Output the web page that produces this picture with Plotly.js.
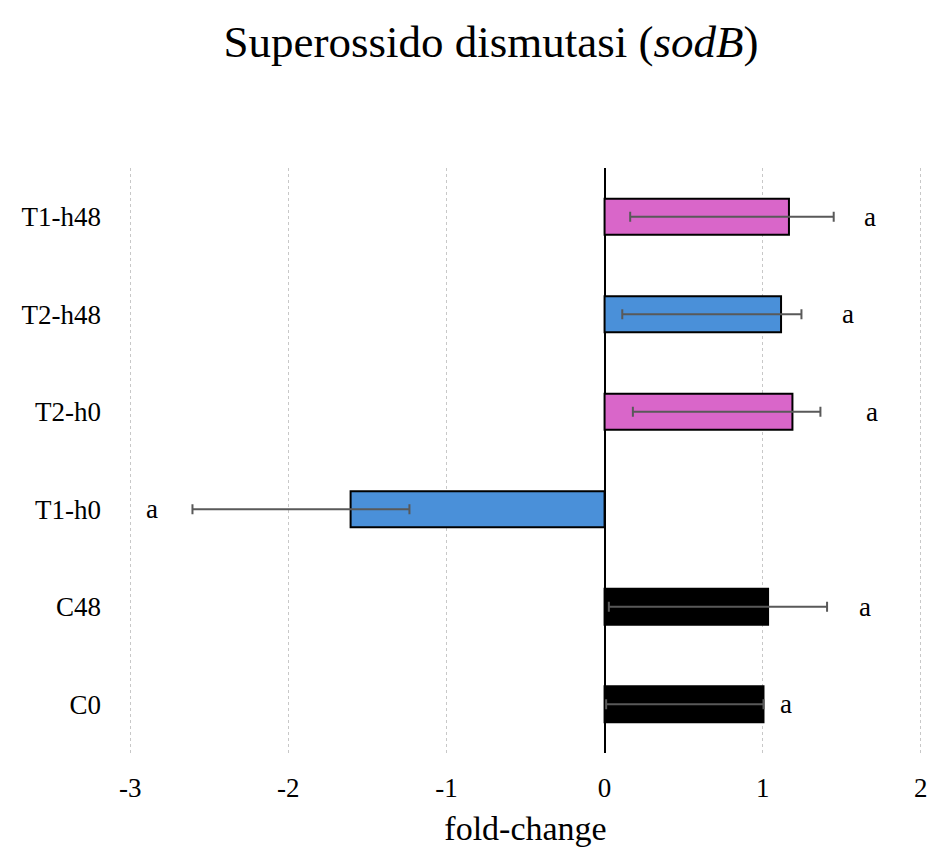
<!DOCTYPE html>
<html>
<head>
<meta charset="utf-8">
<script src="https://cdn.plot.ly/plotly-3.0.1.min.js"></script>
<style>html,body{margin:0;padding:0;background:#fff;}#chart{width:930px;height:853px;}</style>
</head>
<body>
<div id="chart"></div>
<script>
// ---- data ----
var categories = ["C0", "C48", "T1-h0", "T2-h0", "T2-h48", "T1-h48"];
var foldChange = [1.005, 1.034, -1.606, 1.188, 1.116, 1.166];
var errPlus    = [0.0, 0.373, 0.372, 0.177, 0.129, 0.283];
var errMinus   = [0.995, 1.007, 1.0, 1.009, 1.004, 1.004];
var letters    = ["a", "a", "a", "a", "a", "a"];

// ---- styles / layout config ----
var barColors = ["#000000", "#000000", "#4A90D9", "#D966C9", "#4A90D9", "#D966C9"];
var letterX = [1.15, 1.65, -2.86, 1.69, 1.54, 1.68];
var serif = "Liberation Serif, Times New Roman, serif";

var trace = {
  type: "bar",
  orientation: "h",
  y: categories,
  x: foldChange,
  width: 0.37,
  marker: {color: barColors, line: {color: "#000000", width: 2}},
  error_x: {
    type: "data", symmetric: false,
    array: errPlus, arrayminus: errMinus,
    color: "#595959", thickness: 2, width: 5
  },
  hoverinfo: "none"
};

var annotations = categories.map(function (c, i) {
  return {
    x: letterX[i], y: c, xref: "x", yref: "y",
    text: letters[i], showarrow: false,
    font: {family: serif, size: 27, color: "#000"}
  };
});

var layout = {
  width: 930, height: 853,
  margin: {l: 127, r: 6, t: 168, b: 100},
  paper_bgcolor: "#fff", plot_bgcolor: "#fff",
  showlegend: false,
  title: {
    text: "Superossido dismutasi (<i>sodB</i>)",
    font: {family: serif, size: 45, color: "#000"},
    x: 0.528, xref: "container", xanchor: "center",
    y: 0.952, yref: "container", yanchor: "middle"
  },
  xaxis: {
    range: [-3.02, 2.02],
    tickvals: [-3, -2, -1, 0, 1, 2],
    ticktext: ["-3", "-2", "-1", "0", "1", "2"],
    showgrid: true, gridcolor: "#c8c8c8", griddash: "dot", gridwidth: 1,
    zeroline: true, zerolinecolor: "#000", zerolinewidth: 2,
    showline: false, ticks: "",
    ticklabelstandoff: 16,
    tickfont: {family: serif, size: 27, color: "#000"},
    title: {text: "fold-change", font: {family: serif, size: 34, color: "#000"}, standoff: 14}
  },
  yaxis: {
    range: [-0.5, 5.5],
    showgrid: false, zeroline: false, showline: false, ticks: "",
    ticklabelstandoff: 25,
    tickfont: {family: serif, size: 27, color: "#000"}
  },
  annotations: annotations
};

Plotly.newPlot("chart", [trace], layout, {displayModeBar: false, staticPlot: true});
</script>
</body>
</html>
